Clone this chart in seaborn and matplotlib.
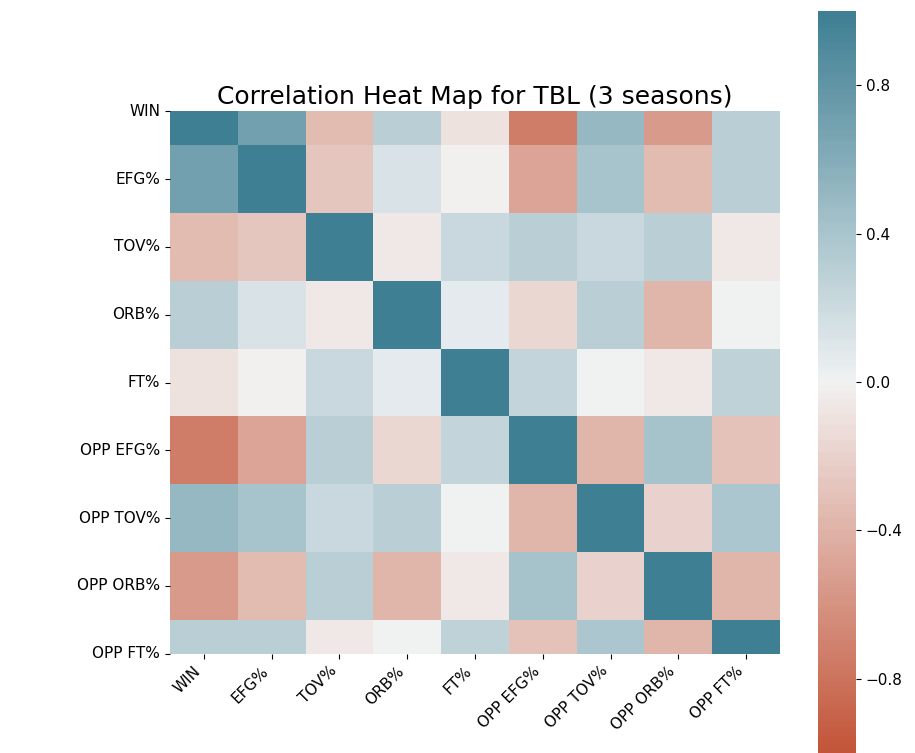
import pandas as pd
import seaborn as sns
import matplotlib.pyplot as plt

# stats in the order they appear on both axes
stats = ['WIN', 'EFG%', 'TOV%', 'ORB%', 'FT%',
         'OPP EFG%', 'OPP TOV%', 'OPP ORB%', 'OPP FT%']

# correlation rows
win      = [1.00, 0.70, -0.35, 0.30, -0.10, -0.75, 0.50, -0.55, 0.30]
efg      = [0.70, 1.00, -0.28, 0.12, -0.02, -0.50, 0.40, -0.35, 0.30]
tov      = [-0.35, -0.28, 1.00, -0.05, 0.22, 0.30, 0.22, 0.30, -0.05]
orb      = [0.30, 0.12, -0.05, 1.00, 0.07, -0.17, 0.30, -0.38, 0.00]
ft       = [-0.10, -0.02, 0.22, 0.07, 1.00, 0.25, 0.00, -0.05, 0.27]
opp_efg  = [-0.75, -0.50, 0.30, -0.17, 0.25, 1.00, -0.38, 0.42, -0.30]
opp_tov  = [0.50, 0.40, 0.22, 0.30, 0.00, -0.38, 1.00, -0.20, 0.38]
opp_orb  = [-0.55, -0.35, 0.30, -0.38, -0.05, 0.42, -0.20, 1.00, -0.38]
opp_ft   = [0.30, 0.30, -0.05, 0.00, 0.27, -0.30, 0.38, -0.38, 1.00]

corr = pd.DataFrame([win, efg, tov, orb, ft, opp_efg, opp_tov, opp_orb, opp_ft],
                    index=stats, columns=stats)

W, H = 915, 753
fig = plt.figure(figsize=(W / 100, H / 100), dpi=100)
ax = fig.add_axes([170 / W, (H - 655) / H, 610 / W, 545 / H])
cax = fig.add_axes([818 / W, 0.0, 38 / W, 742 / H])

sns.heatmap(corr, vmin=-1, vmax=1, center=0,
            cmap=sns.diverging_palette(20, 220, n=200),
            square=True, ax=ax, cbar_ax=cax)

# half rows at top and bottom, as in the original rendering
ax.set_ylim(8.5, 0.5)
ax.set_yticks([0.5, 1.5, 2.5, 3.5, 4.5, 5.5, 6.5, 7.5, 8.5])
ax.set_yticklabels(stats, rotation=0, fontsize=11)
ax.set_xticklabels(stats, rotation=45, ha='right', fontsize=11)
ax.set_title('Correlation Heat Map for TBL (3 seasons)', fontsize=18, pad=5)

cax.set_yticks([0.8, 0.4, 0.0, -0.4, -0.8])
cax.tick_params(labelsize=11)

fig.savefig('out.png', dpi=100)
